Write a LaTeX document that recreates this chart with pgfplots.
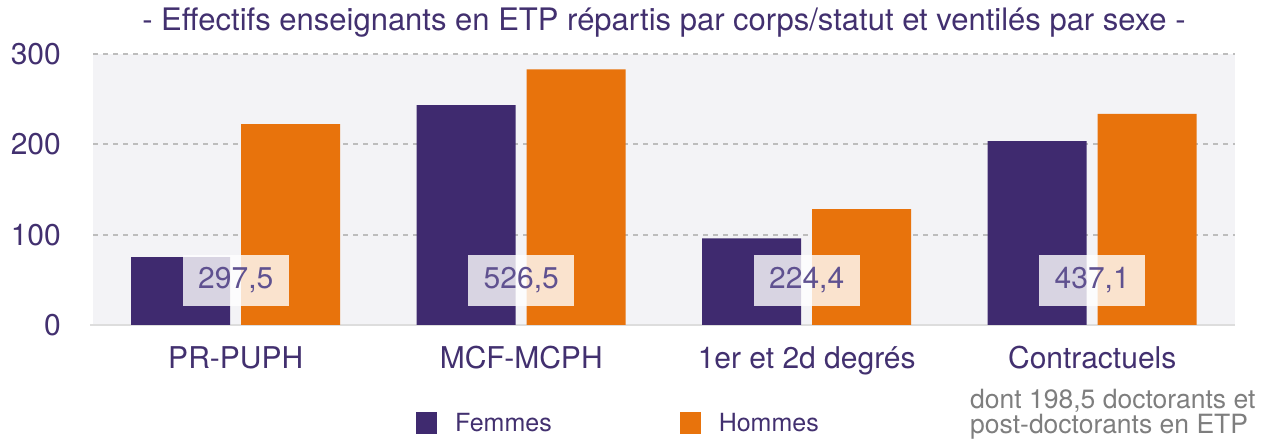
\documentclass[border=0pt]{standalone}
\usepackage{fontspec}
\setmainfont{TeX Gyre Heros}
\usepackage{pgfplots}
\pgfplotsset{compat=1.18}

\definecolor{femcol}{HTML}{3F2A6F}
\definecolor{homcol}{HTML}{E8730C}
\definecolor{bgcol}{HTML}{F3F3F6}
\definecolor{gridcol}{HTML}{BDBDBD}
\definecolor{basecol}{HTML}{DDDDDD}
\definecolor{txtcol}{HTML}{42306F}
\definecolor{labcol}{HTML}{5F5190}
\definecolor{notecol}{HTML}{7E7E7E}

% effectifs (ETP)
\pgfplotstableread{
x femmes hommes
0 75.0 222.5
1 243.5 283.0
2 96.0 128.4
3 203.5 233.6
}\effectifs

\pgfplotstableread{
x y total
0 49.3 297,5
1 49.3 526,5
2 49.3 224,4
3 49.3 437,1
}\totaux

\begin{document}
\begin{tikzpicture}
\useasboundingbox (0,0) rectangle (1264pt,439pt);
\begin{axis}[
  at={(93pt,114pt)}, anchor=south west,
  scale only axis, width=1142pt, height=271pt,
  xmin=-0.5, xmax=3.5, ymin=0, ymax=300,
  axis background/.style={fill=bgcol},
  axis x line*=bottom, axis y line*=left,
  x axis line style={draw=basecol, line width=2.5pt, shorten <=-3pt},
  y axis line style={draw=none},
  major tick length=0pt,
  xtick={0,1,2,3},
  xticklabels={PR-PUPH,MCF-MCPH,1er et 2d degrés,Contractuels},
  ytick={0,100,200,300},
  ymajorgrids,
  grid style={gridcol, line width=2pt, dash pattern=on 5pt off 5pt},
  /pgf/number format/assume math mode=true,
  xticklabel style={anchor=base, yshift=-44pt, text=txtcol, font=\fontsize{30}{36}\selectfont},
  yticklabel style={anchor=east, inner sep=0pt, xshift=-32pt, text=txtcol, font=\fontsize{30}{36}\selectfont},
  title={- Effectifs enseignants en ETP répartis par corps/statut et ventilés par sexe -},
  title style={at={(rel axis cs:0.5,1)}, anchor=base, yshift=18pt, text=txtcol, font=\fontsize{31}{36}\selectfont},
  legend style={at={(axis description cs:0.2828,-0.3616)}, anchor=west, draw=none, fill=none,
    inner sep=0pt, legend columns=2,
    nodes={inner sep=0pt, anchor=west, text=txtcol, font=\fontsize{25}{30}\selectfont},
    /tikz/every odd column/.append style={column sep=18pt},
    /tikz/every even column/.append style={column sep=128pt}},
  legend image code/.code={\fill[#1, draw=none] (0pt,-11pt) rectangle (21pt,11pt);},
]
\addplot[ybar, bar width=99pt, bar shift=-55pt, fill=femcol, draw=none] table[x=x, y=femmes] {\effectifs};
\addplot[ybar, bar width=99pt, bar shift=55pt, fill=homcol, draw=none] table[x=x, y=hommes] {\effectifs};
\legend{Femmes,Hommes}
\addplot[draw=none, mark=none, forget plot, nodes near coords, point meta=explicit symbolic,
  nodes near coords style={anchor=center, fill=white, fill opacity=0.8, text opacity=1,
    text=labcol, minimum width=106pt, minimum height=51pt, inner sep=0pt,
    font=\fontsize{30}{36}\selectfont}]
  table[x=x, y=y, meta=total] {\totaux};
\end{axis}
\node[anchor=base west, align=left, text=notecol, inner sep=0pt,
  font=\fontsize{26.5}{25}\selectfont] at (970pt,5pt)
  {dont 198,5 doctorants et\\post-doctorants en ETP};
\end{tikzpicture}
\end{document}
